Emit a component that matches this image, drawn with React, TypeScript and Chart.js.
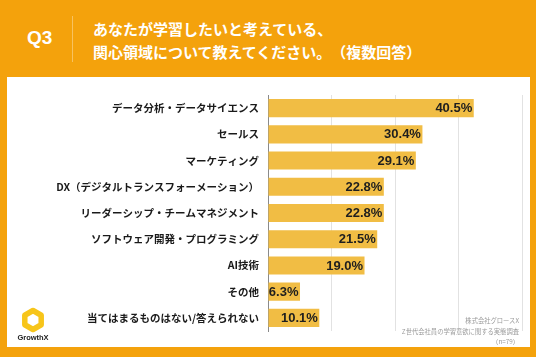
import React, { useEffect, useRef } from "react";
import { Chart, registerables } from "chart.js";

Chart.register(...registerables);

const categories = [
  "データ分析・データサイエンス",
  "セールス",
  "マーケティング",
  "DX（デジタルトランスフォーメーション）",
  "リーダーシップ・チームマネジメント",
  "ソフトウェア開発・プログラミング",
  "AI技術",
  "その他",
  "当てはまるものはない/答えられない",
];
const values = [40.5, 30.4, 29.1, 22.8, 22.8, 21.5, 19.0, 6.3, 10.1];
const valueLabels = ["40.5%", "30.4%", "29.1%", "22.8%", "22.8%", "21.5%", "19.0%", "6.3%", "10.1%"];
const xMin = 0;
const xMax = 50;
const xStep = 12.5;

const titleLines = ["あなたが学習したいと考えている、", "関心領域について教えてください。（複数回答）"];
const footLines = ["株式会社グロースX", "Z世代会社員の学習意欲に関する実態調査", "（n=79）"];

const ORANGE = "#F4A20C";
const BAR = "#F1BD44";
const CJK = "'Noto Sans CJK JP', 'Noto Sans', sans-serif";

const valueLabelPlugin = {
  id: "valueLabels",
  afterDatasetsDraw(chart: any) {
    const ctx = chart.ctx;
    const meta = chart.getDatasetMeta(0);
    ctx.save();
    ctx.font = "bold 13px 'Liberation Sans', Arial, sans-serif";
    ctx.fillStyle = "#1e1e1e";
    ctx.textAlign = "right";
    ctx.textBaseline = "middle";
    meta.data.forEach((bar: any, i: number) => {
      ctx.fillText(valueLabels[i], bar.x - 1.5, bar.y + 0.5);
    });
    ctx.restore();
  },
};

export default function App() {
  const ref = useRef<HTMLCanvasElement | null>(null);

  useEffect(() => {
    if (!ref.current) return;
    const chart = new Chart(ref.current, {
      type: "bar",
      data: {
        labels: categories,
        datasets: [
          {
            data: values,
            backgroundColor: BAR,
            borderWidth: 0,
            barPercentage: 0.69,
            categoryPercentage: 1,
          },
        ],
      },
      options: {
        indexAxis: "y",
        responsive: false,
        animation: false,
        devicePixelRatio: 1,
        layout: { padding: { left: 0, top: 95, right: 14, bottom: 26 } },
        plugins: { legend: { display: false }, tooltip: { enabled: false } },
        scales: {
          x: {
            min: xMin,
            max: xMax,
            ticks: { display: false, stepSize: xStep },
            grid: {
              drawTicks: false,
              color: (c: any) => (c.tick && c.tick.value === 0 ? "rgba(0,0,0,0)" : "#e2e2e2"),
              lineWidth: 1,
            },
            border: { display: false },
            afterFit: (s: any) => {
              s.height = 0;
            },
          },
          y: {
            ticks: {
              autoSkip: false,
              padding: 9,
              color: "#1a1a1a",
              font: { family: CJK, weight: "bold", size: 10.5 },
            },
            grid: { display: false, drawTicks: false },
            border: { display: true, color: "#8a8a8a", width: 1 },
            afterFit: (s: any) => {
              s.width = 268;
            },
          },
        },
      },
      plugins: [valueLabelPlugin],
    } as any);
    return () => chart.destroy();
  }, []);

  return (
    <div
      style={{
        position: "absolute",
        left: 0,
        top: 0,
        width: 536,
        height: 357,
        background: ORANGE,
        overflow: "hidden",
        fontFamily: CJK,
        textSpacingTrim: "space-all",
      } as any}
    >
      <div
        style={{
          position: "absolute",
          left: 27,
          top: 27,
          color: "#fff",
          fontFamily: "'Liberation Sans', Arial, sans-serif",
          fontWeight: "bold",
          fontSize: 19,
          lineHeight: "22px",
        }}
      >
        Q3
      </div>
      <div
        style={{
          position: "absolute",
          left: 72,
          top: 16,
          width: 1,
          height: 46,
          background: "rgba(255,255,255,0.35)",
        }}
      />
      <div
        style={{
          position: "absolute",
          left: 93,
          top: 16.5,
          color: "#fff",
          fontWeight: "bold",
          fontSize: 15,
          lineHeight: "23px",
          whiteSpace: "nowrap",
          textSpacingTrim: "space-all",
        } as any}
      >
        {titleLines.map((t, i) => (
          <div key={i}>{t}</div>
        ))}
      </div>
      <div
        style={{
          position: "absolute",
          left: 7,
          top: 77,
          width: 523,
          height: 270,
          background: "#fff",
        }}
      />
      <canvas
        ref={ref}
        width={536}
        height={357}
        style={{ position: "absolute", left: 0, top: 0, width: 536, height: 357 }}
      />
      <svg
        style={{ position: "absolute", left: 20, top: 307 }}
        width={26}
        height={26}
        viewBox="0 0 26 26"
      >
        <polygon
          points="13,3.5 21.2,8.25 21.2,17.75 13,22.5 4.8,17.75 4.8,8.25"
          fill="none"
          stroke="#F7C51A"
          strokeWidth={5.5}
          strokeLinejoin="round"
        />
      </svg>
      <div
        style={{
          position: "absolute",
          left: 13,
          top: 333,
          width: 40,
          textAlign: "center",
          color: "#222",
          fontFamily: "'Liberation Sans', Arial, sans-serif",
          fontWeight: "bold",
          fontSize: 7.5,
          lineHeight: "10px",
        }}
      >
        GrowthX
      </div>
      <div
        style={{
          position: "absolute",
          right: 536 - 519,
          top: 316,
          textAlign: "right",
          color: "#9a9a9a",
          fontSize: 6.3,
          lineHeight: "10.5px",
          whiteSpace: "nowrap",
        }}
      >
        {footLines.map((t, i) => (
          <div key={i}>{t}</div>
        ))}
      </div>
    </div>
  );
}
